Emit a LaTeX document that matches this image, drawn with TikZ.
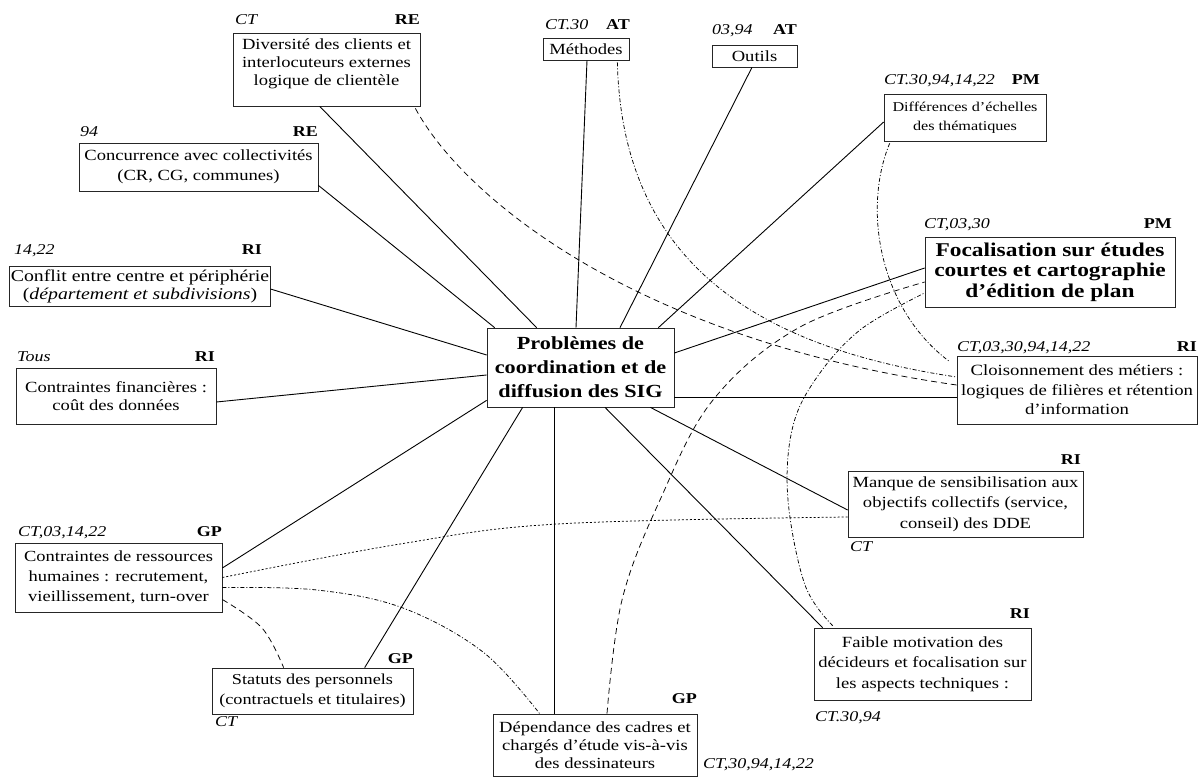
\documentclass[tikz,border=0pt]{standalone}
\usepackage{fontspec}
\setmainfont{Liberation Serif}[FakeStretch=1.2]
\usetikzlibrary{calc}
\begin{document}
\begin{tikzpicture}[x=1pt,y=-1pt,
  box/.style={draw=black!85, line width=0.7pt, inner sep=1pt, align=center, font=\fontsize{15.5}{19}\selectfont},
  tagi/.style={anchor=base west, inner sep=0pt, font=\fontsize{15}{15}\selectfont\itshape},
  tagb/.style={anchor=base east, inner sep=0pt, font=\fontsize{15}{15}\selectfont\bfseries},
  link/.style={line width=0.9pt},
  dlink/.style={line width=0.75pt, dash pattern=on 6pt off 4pt},
  ddlink/.style={line width=0.75pt, dash pattern=on 4pt off 2pt on 1pt off 2pt},
  dotlink/.style={line width=0.75pt, dash pattern=on 2pt off 2pt},
]
\useasboundingbox[fill=white] (0,0) rectangle (1200,777);

% ---------- boxes ----------
\node[box, minimum width=187pt, minimum height=73pt, font=\fontsize{15.5}{18}\selectfont, text depth=14pt] (div) at (326.5,69.5)
  {Diversité des clients et\\interlocuteurs externes\\logique de clientèle};
\node[box, minimum width=239pt, minimum height=48pt, font=\fontsize{15.5}{20}\selectfont] (con) at (198.5,167)
  {Concurrence avec collectivités\\(CR, CG, communes)};
\node[box, minimum width=256pt, minimum height=40pt, font=\fontsize{16.5}{18}\selectfont] (cfl) at (140,286)
  {Conflit entre centre et périphérie\\(\textit{département et subdivisions})};
\node[box, minimum width=200pt, minimum height=56pt, font=\fontsize{15.5}{18.5}\selectfont] (fin) at (116,396)
  {Contraintes financières :\\coût des données};
\node[box, minimum width=187pt, minimum height=79pt, font=\fontsize{18.5}{24}\selectfont\bfseries] (ctr) at (580.5,367.5)
  {Problèmes de\\coordination et de\\diffusion des SIG};
\node[box, minimum width=86pt, minimum height=22pt] (met) at (586,49) {Méthodes};
\node[box, minimum width=85pt, minimum height=22pt] (out) at (754.5,56) {Outils};
\node[box, minimum width=162pt, minimum height=47pt, font=\fontsize{13.5}{19}\selectfont] (dif) at (965,117.5)
  {Différences d'échelles\\des thématiques};
\node[box, minimum width=250pt, minimum height=70pt, font=\fontsize{19.5}{20.5}\selectfont\bfseries] (foc) at (1050,272)
  {Focalisation sur études\\courtes et cartographie\\d'édition de plan};
\node[box, minimum width=240pt, minimum height=68pt, font=\fontsize{15.6}{19.5}\selectfont] (clo) at (1077,390)
  {Cloisonnement des métiers :\\logiques de filières et rétention\\d'information};
\node[box, minimum width=235pt, minimum height=66pt, font=\fontsize{15.5}{20.5}\selectfont] (man) at (965.5,504)
  {Manque de sensibilisation aux\\objectifs collectifs (service,\\conseil) des DDE};
\node[box, minimum width=217pt, minimum height=72pt, font=\fontsize{15.5}{20.5}\selectfont] (fai) at (922.5,664)
  {Faible motivation des\\décideurs et focalisation sur\\les aspects techniques :};
\node[box, minimum width=204pt, minimum height=62pt, font=\fontsize{15.5}{18}\selectfont] (dep) at (595,745)
  {Dépendance des cadres et\\chargés d'étude vis-à-vis\\des dessinateurs};
\node[box, minimum width=201pt, minimum height=46pt, font=\fontsize{15.2}{20.5}\selectfont] (sta) at (312.5,691)
  {Statuts des personnels\\(contractuels et titulaires)};
\node[box, minimum width=207pt, minimum height=69pt, font=\fontsize{15.4}{20}\selectfont] (rh) at (118.5,577.5)
  {Contraintes de ressources\\humaines : recrutement,\\vieillissement, turn-over};

% ---------- tags ----------
\node[tagi] (divA) at (235,24) {CT};
\node[tagb] (divB) at (420,24) {RE};
\node[tagi] (conA) at (80,136) {94};
\node[tagb] (conB) at (318,136) {RE};
\node[tagi] (cflA) at (14,254) {14,22};
\node[tagb] (cflB) at (262,254) {RI};
\node[tagi] (finA) at (17,361) {Tous};
\node[tagb] (finB) at (215,361) {RI};
\node[tagi] (metA) at (545,29) {CT.30};
\node[tagb] (metB) at (630,29) {AT};
\node[tagi] (outA) at (712,34) {03,94};
\node[tagb] (outB) at (797,34) {AT};
\node[tagi] (difA) at (884,84) {CT.30,94,14,22};
\node[tagb] (difB) at (1040,84) {PM};
\node[tagi] (focA) at (924,228) {CT,03,30};
\node[tagb] (focB) at (1172,228) {PM};
\node[tagi] (cloA) at (957,351) {CT,03,30,94,14,22};
\node[tagb] (cloB) at (1197,351) {RI};
\node[tagb] (manB) at (1081,464) {RI};
\node[tagi] (manA) at (850,551) {CT};
\node[tagb] (faiB) at (1030,618) {RI};
\node[tagi] (faiA) at (815,721) {CT.30,94};
\node[tagb] (depB) at (697,703) {GP};
\node[tagi] (depA) at (703,768) {CT,30,94,14,22};
\node[tagb] (staB) at (413,663) {GP};
\node[tagi] (staA) at (215,726) {CT};
\node[tagi] (rhA) at (18,536) {CT,03,14,22};
\node[tagb] (rhB) at (222,536) {GP};

% ---------- solid links to the centre ----------
\draw[link] ($(div.south west)+(87,0)$) -- ($(ctr.north west)+(50,0)$);
\draw[link] ($(con.south east)+(0,-6)$) -- ($(ctr.north west)+(8,0)$);
\draw[link] ($(cfl.east)+(0,3)$) -- ($(ctr.west)+(0,-12.5)$);
\draw[link] ($(fin.east)+(0,6)$) -- ($(ctr.west)+(0,7.5)$);
\draw[link] ($(met.south)+(1,0)$) -- ($(ctr.north)+(-4.5,0)$);
\draw[link] ($(out.south)+(-2.5,0)$) -- ($(ctr.north)+(39.5,0)$);
\draw[link] ($(dif.west)+(0,4.5)$) -- ($(ctr.north east)+(-16,0)$);
\draw[link] ($(foc.west)+(0,-4)$) -- ($(ctr.east)+(0,-14.5)$);
\draw[link] ($(clo.west)+(0,7)$) -- ($(ctr.east)+(0,29.5)$);
\draw[link] ($(man.west)+(0,6)$) -- ($(ctr.south east)+(-24,0)$);
\draw[link] ($(fai.north west)+(9,0)$) -- ($(ctr.south)+(24.5,0)$);
\draw[link] ($(dep.north west)+(62,0)$) -- ($(ctr.south west)+(68,0)$);
\draw[link] ($(sta.north west)+(153,0)$) -- ($(ctr.south west)+(36,0)$);
\draw[link] ($(rh.east)+(0,-9.5)$) -- ($(ctr.south west)+(0,-7)$);

% ---------- dashed / dotted links ----------
\draw[ddlink] ($(met.south east)+(-12,2)$) .. controls (622,250) and (740,345) .. ($(clo.west)+(0,-13)$);
\draw[dlink] ($(div.south east)+(-5,2)$) .. controls (465,200) and (640,340) .. ($(clo.west)+(0,-5)$);
\draw[ddlink] ($(dif.south west)+(6,2)$) .. controls (862,210) and (880,310) .. ($(clo.north west)+(-7,6)$);

\coordinate (d1) at ($(dep.north)+(12,0)$);
\coordinate (d2) at ($(foc.west)+(0,10)$);
\draw[dlink] plot[smooth, tension=0.6] coordinates {(d1) (622,600) (660,500) (713,400) (800,327) (d2)};

\coordinate (e1) at ($(fai.north west)+(19,-2)$);
\coordinate (e2) at ($(foc.west)+(0,21)$);
\draw[ddlink] plot[smooth, tension=0.6] coordinates {(e1) (805,585) (788,500) (792,430) (815,380) (860,330) (e2)};

\coordinate (f1) at ($(rh.east)+(0,0)$);
\coordinate (f2) at ($(man.west)+(0,13)$);
\draw[dotlink] plot[smooth, tension=0.6] coordinates {(f1) (400,544) (557,524) (f2)};

\coordinate (g1) at ($(rh.east)+(0,10)$);
\coordinate (g2) at ($(dep.north west)+(47,0)$);
\draw[ddlink] plot[smooth, tension=0.6] coordinates {(g1) (317,590) (403,608) (483,652) (g2)};

\coordinate (h1) at ($(rh.east)+(0,22)$);
\coordinate (h2) at ($(sta.north west)+(72,0)$);
\draw[dlink] plot[smooth, tension=0.6] coordinates {(h1) (262,628) (h2)};
\end{tikzpicture}
\end{document}
